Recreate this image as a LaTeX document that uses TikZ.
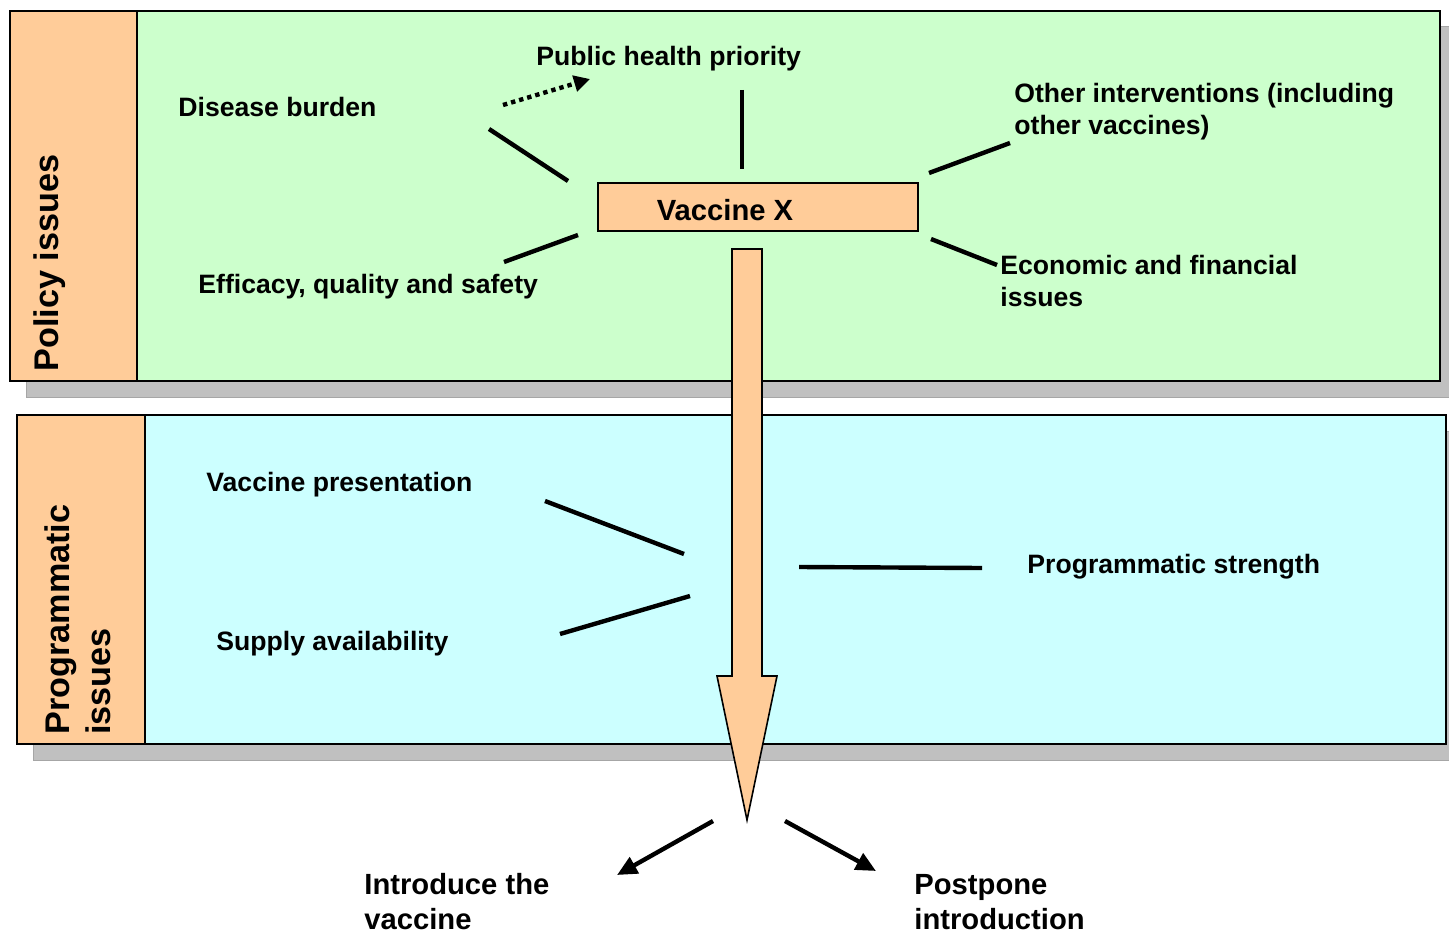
\documentclass[tikz,border=0pt]{standalone}
\usepackage{fontspec}
\setmainfont{Liberation Sans}
\usetikzlibrary{arrows.meta}
\definecolor{policygreen}{HTML}{CCFFCC}
\definecolor{progcyan}{HTML}{CCFFFF}
\definecolor{tabpeach}{HTML}{FFCC99}
\definecolor{shadowgray}{HTML}{C0C0C0}

\begin{document}
\begin{tikzpicture}[x=0.5pt,y=-0.5pt,
    panel/.style={draw, line width=1pt},
    shade/.style={fill=shadowgray, draw=gray!70, line width=0.5pt},
    link/.style={line width=2.2pt},
    lbl/.style={font=\bfseries\fontsize{13.3}{16}\selectfont, inner sep=0pt, anchor=west, align=left},
    big/.style={font=\bfseries\fontsize{14.6}{17.5}\selectfont, inner sep=0pt, align=left},
    side/.style={font=\bfseries\fontsize{17.1}{20.5}\selectfont, inner sep=0pt, rotate=90, anchor=west, align=left}]
  \useasboundingbox (0,0) rectangle (1449,936);
  % policy panel
  \draw[shade] (26,27) rectangle (1449,397);
  \draw[panel, fill=policygreen] (10,11) rectangle (1440,381);
  \draw[panel, fill=tabpeach] (10,11) rectangle (137,381);
  \node[side] (policy) at (50,372) {Policy issues};
  % programmatic panel
  \draw[shade] (33,431) rectangle (1460,760);
  \draw[panel, fill=progcyan] (17,415) rectangle (1446,744);
  \draw[panel, fill=tabpeach] (17,415) rectangle (145,744);
  \node[side] (prog) at (78,735) {Programmatic\\issues};
  % vaccine box
  \node[panel, fill=tabpeach, minimum width=160pt, minimum height=24pt, inner sep=0pt] (vbox) at (758,207) {};
  \node[big] (vx) at (725,210) {Vaccine X};
  % big arrow down through both panels
  \draw[panel, line width=0.8pt, fill=tabpeach] (732,249) -- (762,249) -- (762,676) -- (777,676)
      -- (747,820) -- (717,676) -- (732,676) -- cycle;
  % labels
  \node[lbl] (burden) at (178,107) {Disease burden};
  \node[lbl] (priority) at (536,59) {Public health priority};
  \node[lbl] (other) at (1014,112) {Other interventions (including\\other vaccines)};
  \node[lbl] (efficacy) at (198,287) {Efficacy, quality and safety};
  \node[lbl] (econ) at (1000,281) {Economic and financial\\issues};
  \node[lbl] (present) at (206,485) {Vaccine presentation};
  \node[lbl] (supply) at (216,644) {Supply availability};
  \node[lbl] (strength) at (1027,567) {Programmatic strength};
  \node[big, anchor=west] (introduce) at (364,902) {Introduce the\\vaccine};
  \node[big, anchor=west] (postpone) at (914,902) {Postpone\\introduction};
  % line ends
  \coordinate (burden-a) at (489,129);   \coordinate (burden-b) at (568,181);
  \coordinate (priority-a) at (742,90);  \coordinate (priority-b) at (742,169);
  \coordinate (other-a) at (1010,143);   \coordinate (other-b) at (929,173);
  \coordinate (efficacy-a) at (504,262); \coordinate (efficacy-b) at (578,235);
  \coordinate (econ-a) at (997,265);     \coordinate (econ-b) at (931,239);
  \coordinate (present-a) at (545,501);  \coordinate (present-b) at (684,554);
  \coordinate (supply-a) at (560,634);   \coordinate (supply-b) at (690,596);
  \coordinate (strength-a) at (982,568); \coordinate (strength-b) at (799,567);
  \coordinate (dot-a) at (503,105);      \coordinate (dot-b) at (590,79);
  \coordinate (left-a) at (713,821);     \coordinate (left-b) at (617,875);
  \coordinate (right-a) at (785,821);    \coordinate (right-b) at (876,871);
  % connectors
  \foreach \n in {burden,priority,other,efficacy,econ,present,supply,strength}
    \draw[link] (\n-a) -- (\n-b);
  \draw[link, dash pattern=on 2.2pt off 2pt, -{Triangle[length=8pt,width=8pt]}] (dot-a) -- (dot-b);
  \draw[link, -{Triangle[length=10pt,width=9pt]}] (left-a) -- (left-b);
  \draw[link, -{Triangle[length=10pt,width=9pt]}] (right-a) -- (right-b);
\end{tikzpicture}
\end{document}
